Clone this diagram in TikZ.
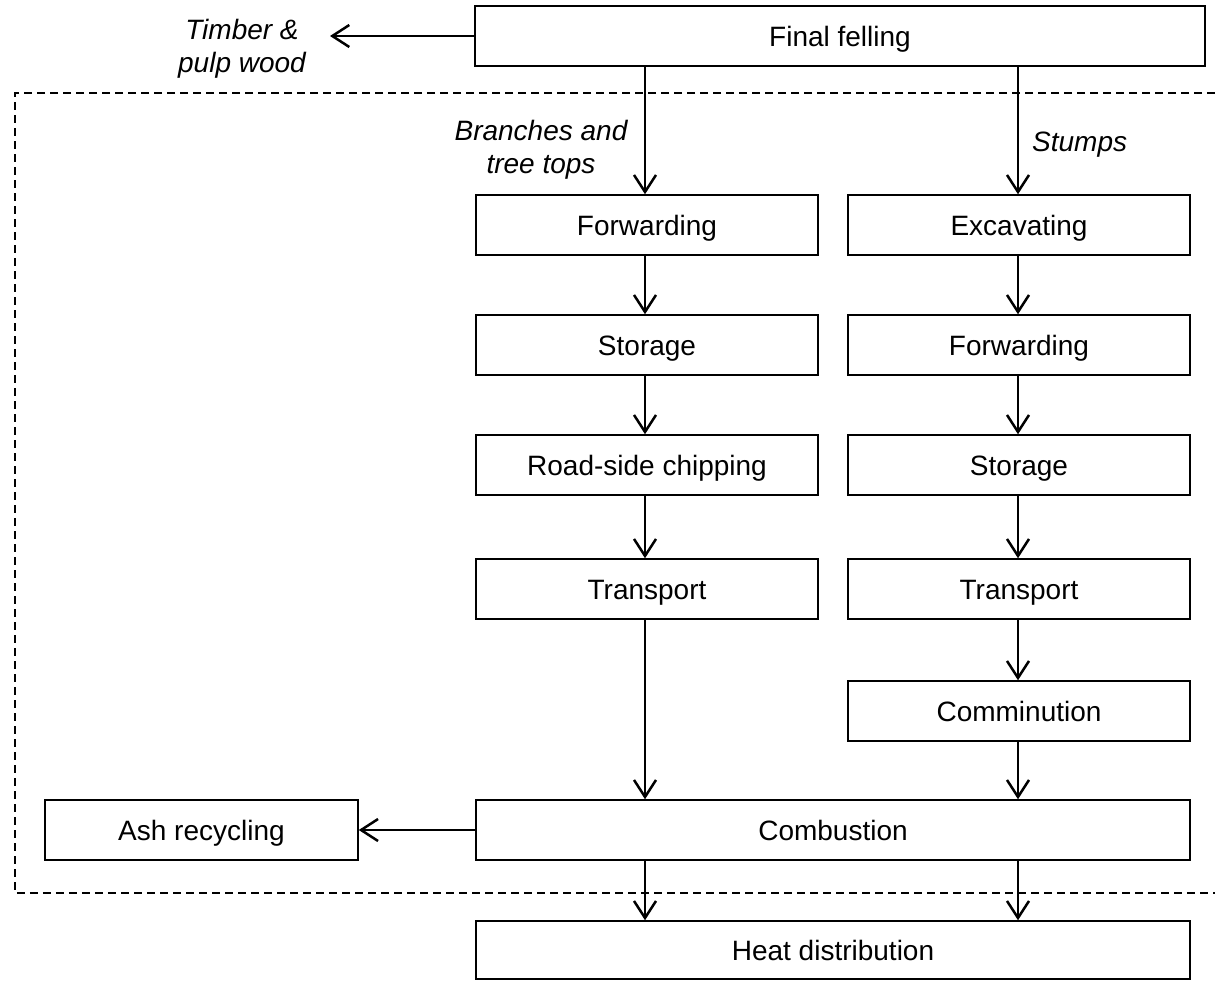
\documentclass[tikz,border=0pt]{standalone}
\usepackage{fontspec}
\setmainfont{Liberation Sans}
\usetikzlibrary{arrows.meta}
\begin{document}
\begin{tikzpicture}[x=1pt,y=-1pt,
  box/.style={draw, line width=1.5pt, rectangle, minimum height=60pt, inner sep=0pt, text height=20pt, text depth=0pt, font=\fontsize{28}{33}\selectfont},
  lbl/.style={font=\fontsize{28}{33}\selectfont\itshape, align=center, inner sep=0pt},
  arr/.style={line width=2.5pt, -{Straight Barb[length=17pt,width=22pt,line width=2.5pt]}}]
\useasboundingbox (0,0) rectangle (1215,980);
% dashed boundary
\draw[line width=1.7pt, dash pattern=on 8pt off 5pt] (1215,93) -- (15,93) -- (15,893) -- (1215,893);
% nodes
\node[box, minimum width=730pt] (final) at (840,36) {Final felling};
\node[box, minimum width=342pt] (fwdL) at (647,225) {Forwarding};
\node[box, minimum width=342pt] (excav) at (1019,225) {Excavating};
\node[box, minimum width=342pt] (storL) at (647,345) {Storage};
\node[box, minimum width=342pt] (fwdR) at (1019,345) {Forwarding};
\node[box, minimum width=342pt] (chip) at (647,465) {Road-side chipping};
\node[box, minimum width=342pt] (storR) at (1019,465) {Storage};
\node[box, minimum width=342pt] (transL) at (647,589) {Transport};
\node[box, minimum width=342pt] (transR) at (1019,589) {Transport};
\node[box, minimum width=342pt] (comm) at (1019,711) {Comminution};
\node[box, minimum width=714pt] (comb) at (833,830) {Combustion};
\node[box, minimum width=313pt] (ash) at (201.5,830) {Ash recycling};
\node[box, minimum width=714pt, minimum height=58pt] (heat) at (833,950) {Heat distribution};
% labels
\node[lbl] (timber) at (242,49) {Timber \&\\pulp wood};
\node[lbl] (branches) at (541,150) {Branches and\\tree tops};
\node[lbl, anchor=west] (stumps) at (1032,145) {Stumps};
% coordinates for columns
\coordinate (xL) at (645,0);
\coordinate (xR) at (1018,0);
\coordinate (timberEnd) at (330,36);
% arrows
\draw[arr] (final.west) -- (timberEnd);
\draw[arr] (final.south -| xL) -- (fwdL.north -| xL);
\draw[arr] (final.south -| xR) -- (excav.north -| xR);
\draw[arr] (fwdL.south -| xL) -- (storL.north -| xL);
\draw[arr] (storL.south -| xL) -- (chip.north -| xL);
\draw[arr] (chip.south -| xL) -- (transL.north -| xL);
\draw[arr] (transL.south -| xL) -- (comb.north -| xL);
\draw[arr] (excav.south -| xR) -- (fwdR.north -| xR);
\draw[arr] (fwdR.south -| xR) -- (storR.north -| xR);
\draw[arr] (storR.south -| xR) -- (transR.north -| xR);
\draw[arr] (transR.south -| xR) -- (comm.north -| xR);
\draw[arr] (comm.south -| xR) -- (comb.north -| xR);
\draw[arr] (comb.west) -- (ash.east);
\draw[arr] (comb.south -| xL) -- (heat.north -| xL);
\draw[arr] (comb.south -| xR) -- (heat.north -| xR);
\end{tikzpicture}
\end{document}
